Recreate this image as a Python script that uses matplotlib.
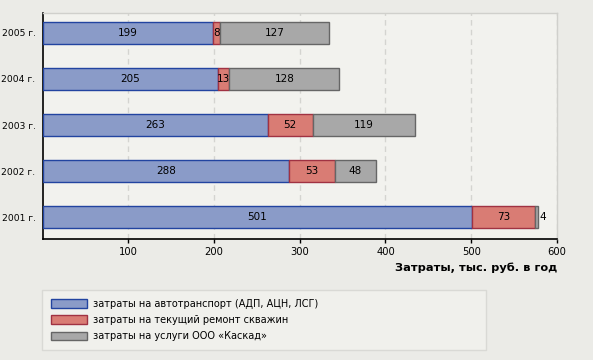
import numpy as np
import matplotlib.pyplot as plt
from matplotlib.patches import Patch

years = ['2005 г.', '2004 г.', '2003 г.', '2002 г.', '2001 г.']
auto_cost = [199, 205, 263, 288, 501]
repair_cost = [8, 13, 52, 53, 73]
kaskad_cost = [127, 128, 119, 48, 4]
series_names = ['затраты на автотранспорт (АДП, АЦН, ЛСГ)',
                'затраты на текущий ремонт скважин',
                'затраты на услуги ООО «Каскад»']
x_ticks = [100, 200, 300, 400, 500, 600]

fills = ['#8a9bc8', '#d97c74', '#a8a8a8']
edges = ['#2244a0', '#a03242', '#666666']

fig = plt.figure(figsize=(5.93, 3.6), dpi=100, facecolor='#ebebe7')
ax = fig.add_axes([0.0717, 0.336, 0.8675, 0.628])
ax.set_facecolor('#f2f2ee')

ypos = np.arange(len(years))[::-1]
left = np.zeros(len(years))
for vals, fc, ec in zip([auto_cost, repair_cost, kaskad_cost], fills, edges):
    vals = np.array(vals, dtype=float)
    ax.barh(ypos, vals, left=left, height=0.48, color=fc, edgecolor=ec,
            linewidth=1.0, zorder=3)
    for y, l, v in zip(ypos, left, vals):
        if v < 6 and fc == fills[-1]:
            ax.text(l + v + 2, y, f'{v:.0f}', ha='left', va='center', fontsize=7.5, zorder=4)
        else:
            ax.text(l + v / 2, y, f'{v:.0f}', ha='center', va='center', fontsize=7.5, zorder=4)
    left += vals

ax.set_xlim(0, 600)
ax.set_ylim(-0.478, 4.435)
ax.set_xticks(x_ticks)
ax.set_xticklabels([str(t) for t in x_ticks], fontsize=7.2)
ax.set_yticks(ypos)
ax.set_yticklabels(years, fontsize=6.6)
ax.tick_params(axis='y', length=0, pad=5)
ax.tick_params(axis='x', length=3, width=1, pad=3)
ax.grid(axis='x', color='#d4d4d0', linestyle=(0, (4, 3)), linewidth=1, zorder=0)

for s in ['top', 'right']:
    ax.spines[s].set_color('#d0d0cc')
    ax.spines[s].set_linewidth(1)
for s in ['left', 'bottom']:
    ax.spines[s].set_color('black')
    ax.spines[s].set_linewidth(1.2)

fig.text(557 / 593, 1 - 268 / 360, 'Затраты, тыс. руб. в год', ha='right', va='center',
         fontsize=8.2, fontweight='bold')

handles = [Patch(facecolor=fc, edgecolor=ec, linewidth=1) for fc, ec in zip(fills, edges)]
leg = fig.legend(handles, series_names, loc='upper left',
                 bbox_to_anchor=(37 / 593, 1 - 285 / 360, 454 / 593, 0), mode='expand',
                 fontsize=7, handlelength=3.7, handleheight=1.0, labelspacing=0.65,
                 handletextpad=0.7, borderpad=0.9, fancybox=False, frameon=True)
leg.get_frame().set_facecolor('#f2f2ee')
leg.get_frame().set_edgecolor('#d4d4d0')
leg.get_frame().set_linewidth(1)

fig.savefig('out.png', dpi=100, facecolor=fig.get_facecolor())
